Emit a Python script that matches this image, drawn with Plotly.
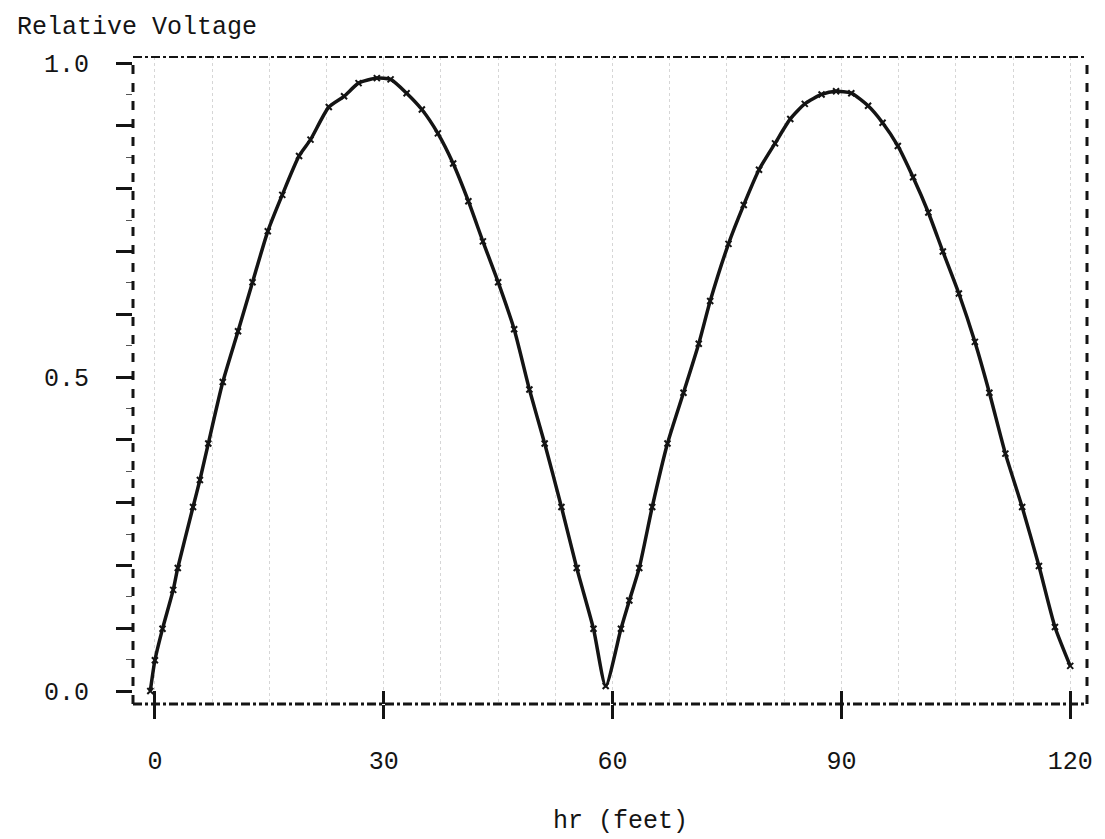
import plotly.graph_objects as go

# values
hr = [-0.6, 0.0, 1.0, 2.4, 3.0, 5.0, 5.9, 7.0, 8.9, 10.9, 12.8, 14.8, 16.7, 18.9, 20.4,
      22.8, 24.8, 26.7, 29.1, 30.9, 33.0, 35.0, 37.1, 39.1, 41.1, 43.0, 45.0, 47.1, 49.1,
      51.1, 53.3, 55.3, 57.5, 59.1, 61.1, 62.2, 63.5, 65.2, 67.2, 69.3, 71.3, 72.8, 75.2,
      77.2, 79.2, 81.3, 83.3, 85.2, 87.4, 89.3, 91.3, 93.5, 95.4, 97.4, 99.4, 101.4, 103.3,
      105.4, 107.5, 109.4, 111.5, 113.7, 115.9, 118.0, 120.0]
voltage = [0.0, 0.049, 0.099, 0.161, 0.196, 0.293, 0.336, 0.394, 0.492, 0.573, 0.651, 0.732,
           0.790, 0.852, 0.878, 0.930, 0.947, 0.968, 0.976, 0.974, 0.952, 0.926, 0.888, 0.840,
           0.780, 0.716, 0.651, 0.576, 0.480, 0.394, 0.293, 0.196, 0.099, 0.008, 0.099, 0.144,
           0.196, 0.293, 0.394, 0.475, 0.553, 0.621, 0.712, 0.774, 0.830, 0.872, 0.911, 0.935,
           0.950, 0.955, 0.952, 0.932, 0.905, 0.868, 0.818, 0.762, 0.700, 0.633, 0.556, 0.475,
           0.378, 0.293, 0.199, 0.102, 0.04]

x_ticks = [0, 30, 60, 90, 120]
y_ticks = [0.0, 0.1, 0.2, 0.3, 0.4, 0.5, 0.6, 0.7, 0.8, 0.9, 1.0]
y_tick_text = ["0.0", "", "", "", "", "0.5", "", "", "", "", "1.0"]

FONT = "Liberation Mono, Courier New, monospace"
INK = "#141414"

fig = go.Figure()
fig.add_trace(go.Scatter(
    x=hr, y=voltage, mode="lines+markers",
    line=dict(color=INK, width=3.5, shape="spline", smoothing=0.6),
    marker=dict(symbol="x-thin", size=6, line=dict(color=INK, width=2)),
    showlegend=False, hoverinfo="skip"))
# invisible trace so the second x axis (upper half of the "+" ticks) gets drawn
fig.add_trace(go.Scatter(x=[x_ticks[0]], y=[y_ticks[0]], xaxis="x2", mode="markers",
                         marker=dict(opacity=0), showlegend=False, hoverinfo="skip"))

xr = [-2.87, 122.2]
# the page body adds an 8px offset, so the figure is 8px smaller than the window
fig.update_layout(
    width=1097, height=831,
    margin=dict(l=125, r=13, t=49, b=135),
    paper_bgcolor="white", plot_bgcolor="white",
    font=dict(family=FONT, size=25, color=INK),
    xaxis=dict(range=xr, tickvals=x_ticks, ticks="outside", ticklen=14, tickwidth=3,
               tickcolor=INK, showline=False, zeroline=False, showgrid=False,
               ticklabelstandoff=20,
               minor=dict(dtick=7.5, tick0=0, showgrid=True, gridcolor="#d6d6d6",
                          griddash="dot", gridwidth=1)),
    xaxis2=dict(range=xr, overlaying="x", anchor="y", tickvals=x_ticks, ticks="inside",
                ticklen=13, tickwidth=3, tickcolor=INK, showticklabels=False,
                showline=False, zeroline=False, showgrid=False),
    yaxis=dict(range=[-0.0207, 1.0096], tickvals=y_ticks, ticktext=y_tick_text,
               ticks="outside", ticklen=16, tickwidth=3, tickcolor=INK,
               ticklabelstandoff=22, showline=False, zeroline=False, showgrid=False,
               minor=dict(dtick=0.05, ticks="outside", ticklen=6, tickwidth=1,
                          tickcolor="#555")),
)

# dashed frame
frame = [
    dict(x0=0, x1=0, y0=0, y1=1, dash="dash", width=3),
    dict(x0=1, x1=1, y0=0, y1=1, dash="dash", width=3),
    dict(x0=0, x1=1, y0=1, y1=1, dash="dashdot", width=2),
    dict(x0=0, x1=1, y0=0, y1=0, dash="dashdot", width=3),
]
for f in frame:
    fig.add_shape(type="line", xref="paper", yref="paper",
                  x0=f["x0"], x1=f["x1"], y0=f["y0"], y1=f["y1"],
                  line=dict(color=INK, width=f["width"], dash=f["dash"]))

fig.add_annotation(text="Relative Voltage", xref="paper", yref="paper",
                   x=-0.124, y=1.045, xanchor="left", yanchor="middle",
                   showarrow=False, font=dict(family=FONT, size=25, color=INK))
fig.add_annotation(text="hr (feet)", xref="paper", yref="paper",
                   x=0.511, y=-0.182, xanchor="center", yanchor="middle",
                   showarrow=False, font=dict(family=FONT, size=25, color=INK))

fig.write_html("out.html")
